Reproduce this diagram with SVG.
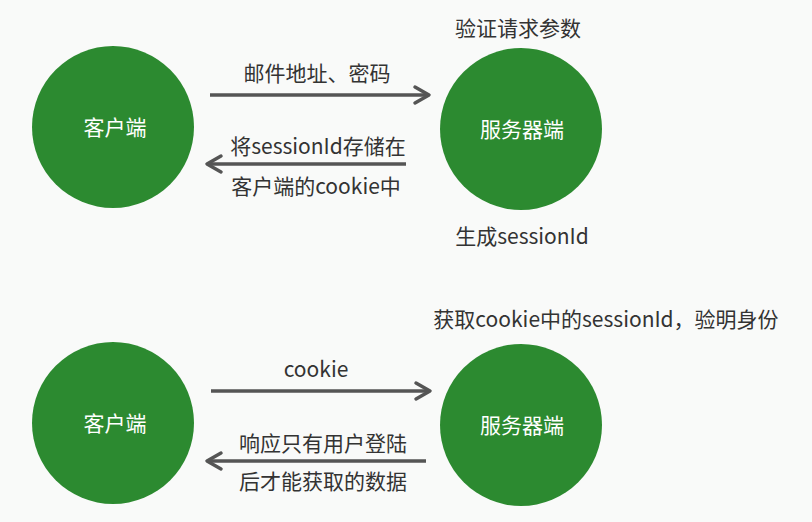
<svg xmlns="http://www.w3.org/2000/svg" width="812" height="522" viewBox="0 0 812 522">
<defs>
<style>
.bg{fill:#f9faf9}
.node circle{fill:#2c8a30}
.node text{fill:#ffffff;font-family:"Noto Sans CJK SC","Noto Sans",sans-serif;font-size:21px;text-anchor:middle}
.lbl{fill:#333333;font-family:"Noto Sans CJK SC","Noto Sans",sans-serif;font-size:21px;text-anchor:middle}
.edge{stroke:#555555;stroke-width:3.5;fill:none}
.head{stroke:#555555;stroke-width:3.5;fill:none;stroke-linecap:round;stroke-linejoin:round}
</style>
</defs>
<rect class="bg" x="0" y="0" width="812" height="522"/>

<g id="client1" class="node"><circle cx="113" cy="127" r="81"/><text x="115" y="135">客户端</text></g>
<g id="server1" class="node"><circle cx="521" cy="129" r="81"/><text x="522" y="137">服务器端</text></g>
<g id="client2" class="node"><circle cx="113" cy="423" r="81"/><text x="115" y="431">客户端</text></g>
<g id="server2" class="node"><circle cx="521" cy="425" r="81"/><text x="522" y="433">服务器端</text></g>

<g id="connectors">
<line class="edge" x1="210" y1="95" x2="428" y2="95"/>
<polyline class="head" points="415,87 429,95 415,103"/>
<line class="edge" x1="406" y1="164" x2="208" y2="164"/>
<polyline class="head" points="221,156 207,164 221,172"/>
<line class="edge" x1="211" y1="391" x2="429" y2="391"/>
<polyline class="head" points="416,383 430,391 416,399"/>
<line class="edge" x1="426" y1="461" x2="208" y2="461"/>
<polyline class="head" points="221,453 207,461 221,469"/>
</g>

<g id="labels">
<text class="lbl" x="518" y="36">验证请求参数</text>
<text class="lbl" x="317" y="81">邮件地址、密码</text>
<text class="lbl" x="318" y="154">将sessionId存储在</text>
<text class="lbl" x="316" y="194">客户端的cookie中</text>
<text class="lbl" x="522" y="244">生成sessionId</text>
<text class="lbl" x="606" y="327">获取cookie中的sessionId，验明身份</text>
<text class="lbl" x="316" y="377">cookie</text>
<text class="lbl" x="323" y="451">响应只有用户登陆</text>
<text class="lbl" x="323" y="489">后才能获取的数据</text>
</g>
</svg>
